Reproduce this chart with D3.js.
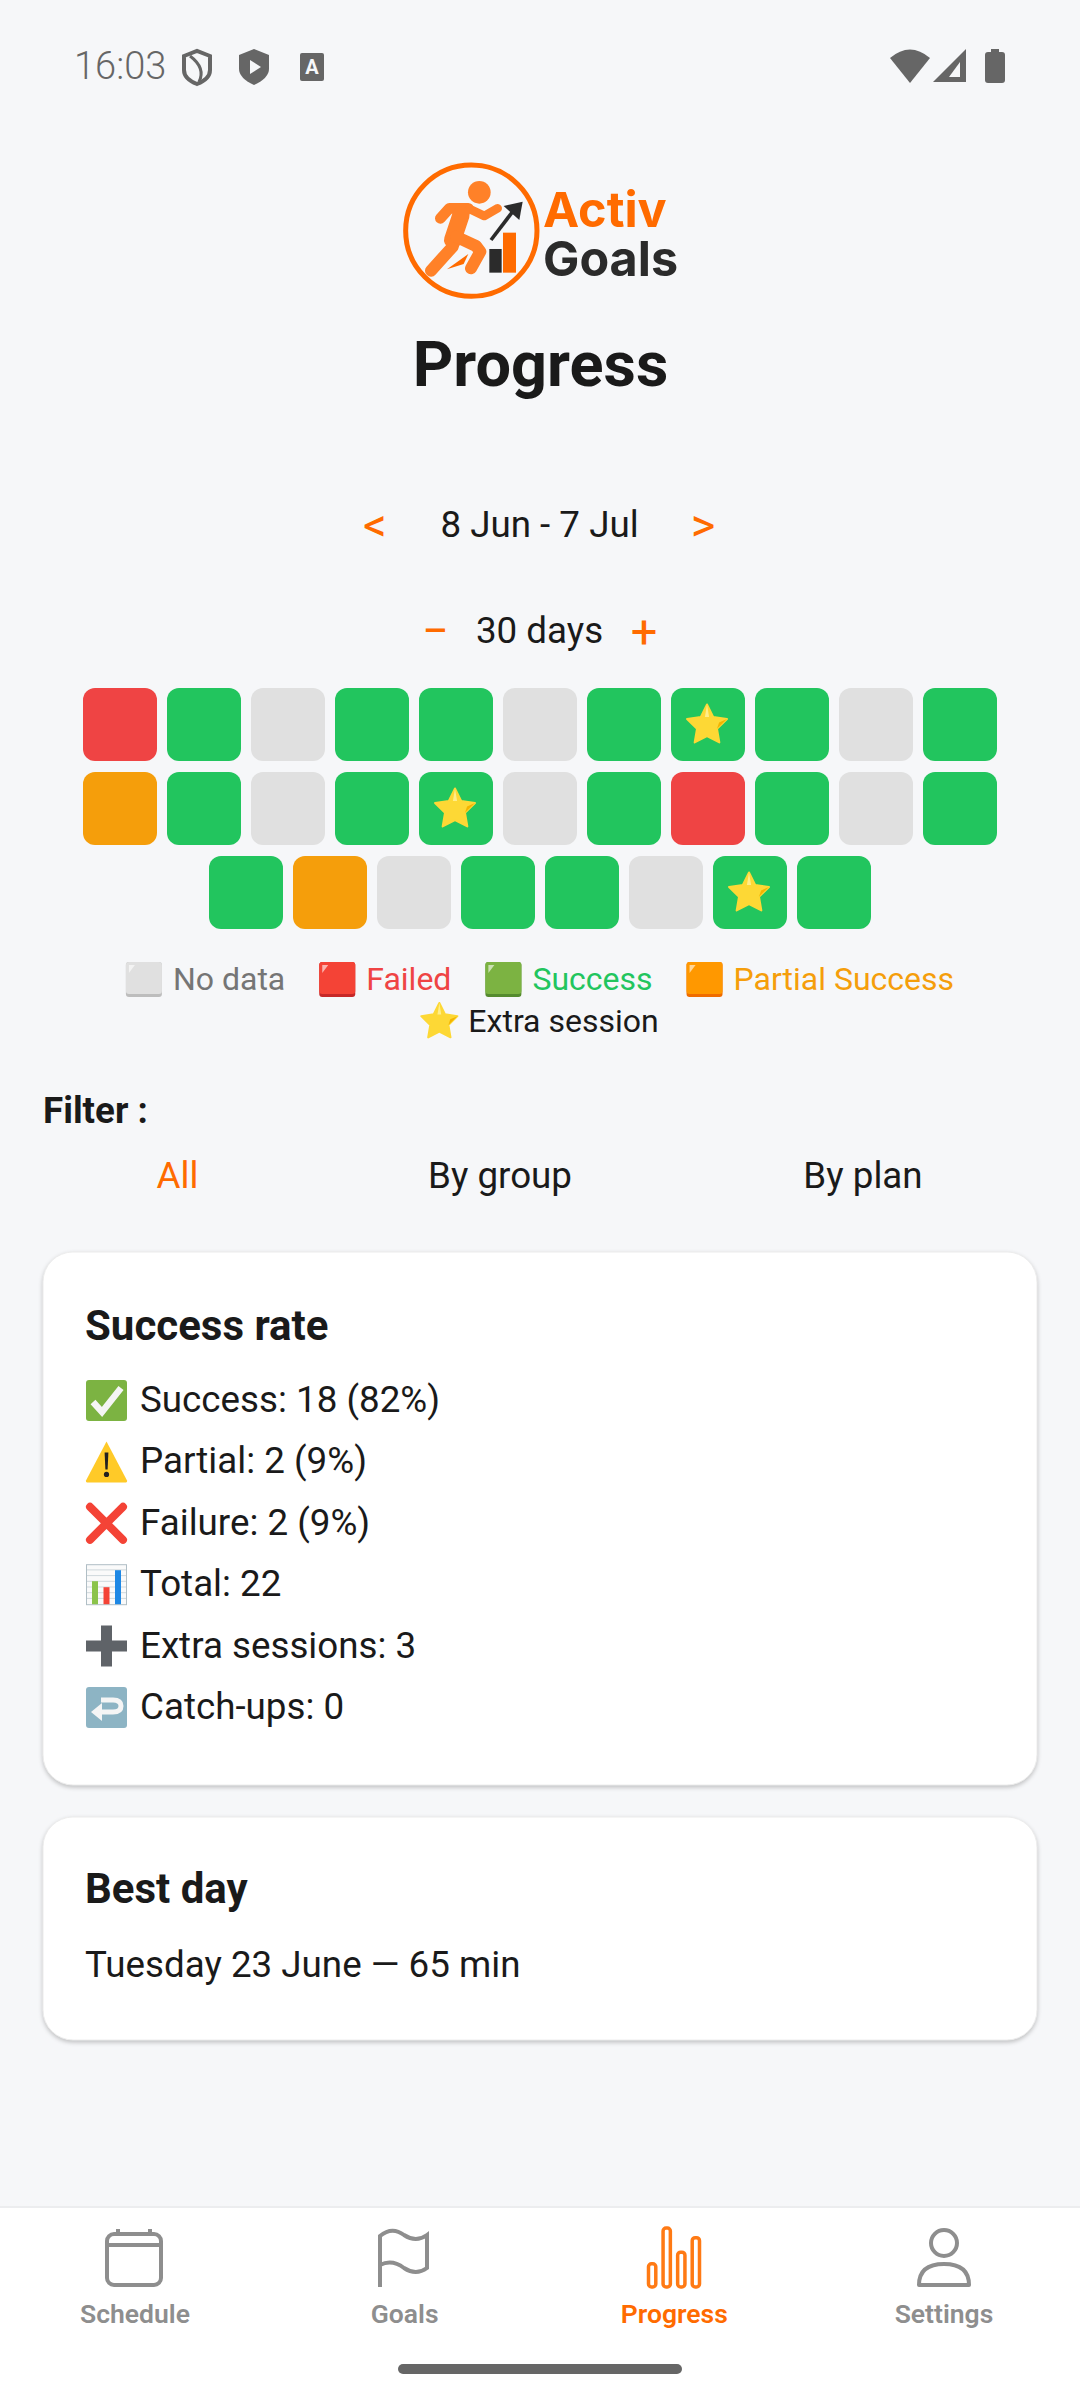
<!DOCTYPE html>
<html>
<head>
<meta charset="utf-8">
<script src="https://cdn.jsdelivr.net/npm/d3@7"></script>
<style>
  html, body { margin: 0; padding: 0; background: #f6f7f9; }
  svg { display: block; }
  text { font-family: Roboto, sans-serif; fill: #1a1a1a; }
</style>
</head>
<body>
<div id="chart"></div>
<script>
// n = no data, f = failed, s = success, p = partial
var dayStates = [
  "f", "s", "n", "s", "s", "n", "s", "s", "s", "n", "s",
  "p", "s", "n", "s", "s", "n", "s", "f", "s", "n", "s",
  "s", "p", "n", "s", "s", "n", "s", "s"
];
var extraDays = [7, 15, 28];
var daysPerRow = 11;

var stateKeys = ["n", "f", "s", "p"];
var stateColors = ["#e0e0e0", "#ef4444", "#22c55e", "#f59e0b"];
var legendLabels = ["No data", "Failed", "Success", "Partial Success", "Extra session"];
var legendIcons = ["n", "f", "s", "p", "star"];
var legendTextColors = ["#757575", "#ef4444", "#22c55e", "#f59e0b", "#1a1a1a"];

var filterLabels = ["All", "By group", "By plan"];
var statIcons = ["check", "warn", "cross", "chart", "plus", "back"];
var statLabels = ["Success: 18 (82%)", "Partial: 2 (9%)", "Failure: 2 (9%)", "Total: 22", "Extra sessions: 3", "Catch-ups: 0"];
var navLabels = ["Schedule", "Goals", "Progress", "Settings"];
var navBars = [24, 61, 36, 51];

var orange = "#ff6b00";
var bodySize = 36.75;
var width = 1080, height = 2400;

var svg = d3.select("#chart").append("svg")
  .attr("width", width)
  .attr("height", height)
  .attr("viewBox", `0 0 ${width} ${height}`);

svg.append("rect").attr("width", width).attr("height", height).attr("fill", "#f6f7f9");

function label(g, str, x, y, size, color, anchor, weight) {
  return g.append("text")
    .attr("x", x).attr("y", y)
    .attr("font-size", size)
    .attr("text-anchor", anchor || "start")
    .attr("font-weight", weight || 400)
    .style("fill", color || "#1a1a1a")
    .text(str);
}

// ---- status bar
function drawStatusBar() {
  var g = svg.append("g");
  var grey = "#666666";
  label(g, "16:03", 74, 79, 38, grey, "start", 300);
  g.append("path").attr("d", "M0,5 L13,0 L26,5 L26,19 Q26,28 13,33 Q0,28 0,19 Z").attr("transform", "translate(184,51)")
    .attr("fill", "none").attr("stroke", grey).attr("stroke-width", 4);
  g.append("path").attr("d", "M190,56 Q206,68 199,82").attr("fill", "none").attr("stroke", grey).attr("stroke-width", 3);
  g.append("path").attr("d", "M0,6 L15,0 L30,6 L30,20 Q30,29 15,36 Q0,29 0,20 Z").attr("transform", "translate(239,49)").attr("fill", grey);
  g.append("path").attr("d", "M250,60 L261,67 L250,74 Z").attr("fill", "#f6f7f9");
  g.append("rect").attr("x", 300).attr("y", 53).attr("width", 24).attr("height", 28).attr("rx", 2).attr("fill", grey);
  label(g, "A", 312, 74, 20, "#f6f7f9", "middle", 700);
  g.append("path").attr("d", "M890,58 Q910,41 930,58 L910,83 Z").attr("fill", grey);
  g.append("path").attr("d", "M966,49 L966,82 L933,82 Z").attr("fill", grey);
  g.append("path").attr("d", "M960,62 L960,77 L949,77 Z").attr("fill", "#f6f7f9");
  g.append("rect").attr("x", 985).attr("y", 52).attr("width", 20).attr("height", 31).attr("rx", 3).attr("fill", grey);
  g.append("rect").attr("x", 991).attr("y", 49).attr("width", 8).attr("height", 5).attr("fill", grey);
}

// ---- logo, traced in crop pixels
function drawLogo() {
  var g = svg.append("g").attr("transform", "translate(381,140) scale(0.3333)");
  var body = "#ff8128", dark = "#2b2b2b";
  g.append("circle").attr("cx", 271).attr("cy", 272).attr("r", 197)
    .attr("fill", "none").attr("stroke", orange).attr("stroke-width", 15);
  g.append("circle").attr("cx", 295).attr("cy", 157).attr("r", 34).attr("fill", body);
  [
    ["M178,235 L205,205 L262,205", 32],
    ["M262,205 L310,228 L350,205", 26],
    ["M248,215 L215,320 L150,392", 36],
    ["M240,225 L215,300", 52],
    ["M225,290 L285,318 L298,335 L270,385", 36]
  ].forEach(function(s) {
    g.append("path").attr("d", s[0]).attr("fill", "none").attr("stroke", body)
      .attr("stroke-width", s[1]).attr("stroke-linecap", "round").attr("stroke-linejoin", "round");
  });
  g.append("path").attr("d", "M198,388 L262,342 L248,372 Z").attr("fill", orange);
  g.append("path").attr("d", "M330,300 L395,215").attr("stroke", dark).attr("stroke-width", 11);
  g.append("path").attr("d", "M368,198 L425,185 L415,240 Z").attr("fill", dark);
  g.append("rect").attr("x", 325).attr("y", 327).attr("width", 37).attr("height", 71).attr("fill", dark);
  g.append("rect").attr("x", 366).attr("y", 278).attr("width", 39).attr("height", 120).attr("fill", orange);

  var t = svg.append("g");
  label(t, "Activ", 543, 227, 48.5, orange, "start", 700).style("font-family", "Inter");
  label(t, "Goals", 543, 276, 48.5, dark, "start", 700).style("font-family", "Inter");
}

// ---- day grid
function drawGrid() {
  var xBand = d3.scaleBand().domain(d3.range(daysPerRow)).range([83, 997]).paddingInner(10 / 84);
  var rows = d3.range(Math.ceil(dayStates.length / daysPerRow));
  var yBand = d3.scaleBand().domain(rows).range([688, 929]).paddingInner(11 / 84);
  var color = d3.scaleOrdinal().domain(stateKeys).range(stateColors);

  var cells = dayStates.map(function(state, i) {
    var row = Math.floor(i / daysPerRow);
    var inRow = Math.min(daysPerRow, dayStates.length - row * daysPerRow);
    return {
      state: state,
      extra: extraDays.indexOf(i) >= 0,
      x: xBand(i % daysPerRow) + (daysPerRow - inRow) / 2 * xBand.step(),
      y: yBand(row)
    };
  });

  svg.append("g").selectAll("rect").data(cells).enter().append("rect")
    .attr("x", d => d.x)
    .attr("y", d => d.y)
    .attr("width", xBand.bandwidth())
    .attr("height", yBand.bandwidth())
    .attr("rx", 12)
    .attr("fill", d => color(d.state));

  cells.filter(d => d.extra).forEach(function(d) {
    drawStar(svg.append("g"), d.x + xBand.bandwidth() / 2 - 1, d.y + yBand.bandwidth() / 2 + 1, 21);
  });
}

function drawStar(g, cx, cy, r) {
  var pts = d3.range(10).map(function(i) {
    var a = -Math.PI / 2 + i * Math.PI / 5;
    var rad = i % 2 ? r * 0.5 : r;
    return [cx + rad * Math.cos(a), cy + rad * Math.sin(a)];
  });
  g.append("path").attr("d", d3.line().curve(d3.curveLinearClosed)(pts))
    .attr("fill", "#fdd835").attr("stroke", "#fdd835").attr("stroke-width", 2).attr("stroke-linejoin", "round");
  g.append("path").attr("d", `M${pts[2][0]},${pts[2][1]} L${pts[3][0]},${pts[3][1]} L${pts[3][0] + r * 0.1},${pts[3][1] - r * 0.3} Z`)
    .attr("fill", "#f4b400");
  g.append("path").attr("d", `M${cx},${cy - r} L${cx + r * 0.1},${cy - r * 0.4} L${cx - r * 0.1},${cy - r * 0.4} Z`)
    .attr("fill", "#ffee8a");
}

// ---- legend, wrapped and centred like a flex row
function drawLegend() {
  var g = svg.append("g");
  var faces = { n: "#e0e0e0", f: "#f44336", s: "#7cb342", p: "#ff9800" };
  var edges = { n: "#bdbdbd", f: "#c62828", s: "#558b2f", p: "#ef6c00" };
  var iconW = 36, iconGap = 11, itemGap = 34, size = 32;

  var widths = legendLabels.map(function(str) {
    var t = label(g, str, 0, -50, size);
    var w = t.node().getComputedTextLength();
    t.remove();
    return iconW + iconGap + w;
  });
  var rows = [d3.range(0, 4), [4]];
  var baselines = [990, 1032];
  rows.forEach(function(row, r) {
    var total = d3.sum(row, i => widths[i]) + itemGap * (row.length - 1);
    var x = 540 - total / 2;
    row.forEach(function(i) {
      var key = legendIcons[i], y = baselines[r];
      if (key === "star") {
        drawStar(g, x + iconW / 2, y - 10, 19);
      } else {
        g.append("rect").attr("x", x).attr("y", y - 28).attr("width", iconW).attr("height", 35).attr("rx", 3).attr("fill", edges[key]);
        g.append("rect").attr("x", x).attr("y", y - 28).attr("width", iconW).attr("height", 32).attr("rx", 3).attr("fill", faces[key]);
        g.append("path").attr("d", `M${x + 3},${y - 17} L${x + 3},${y - 25} L${x + 9},${y - 25} Z`).attr("fill", "#fff").attr("opacity", 0.6);
      }
      label(g, legendLabels[i], x + iconW + iconGap, y, size, legendTextColors[i]);
      x += widths[i] + itemGap;
    });
  });
}

// ---- small emoji icons, 40px box
function drawEmoji(g, key, x, y) {
  var e = g.append("g").attr("transform", `translate(${x},${y})`);
  if (key === "check") {
    e.append("rect").attr("width", 41).attr("height", 41).attr("rx", 3).attr("fill", "#7cb342");
    e.append("path").attr("d", "M7,22 L16,32 L35,8").attr("fill", "none").attr("stroke", "#f5f5f5").attr("stroke-width", 6.5);
  } else if (key === "warn") {
    e.append("path").attr("d", "M20.5,0 L41,39 Q41.5,41 39,41 L2,41 Q-0.5,41 0,39 Z").attr("fill", "#ffca28");
    e.append("path").attr("d", "M18.6,11 L22.4,11 L21.6,28 L19.4,28 Z").attr("fill", "#212121");
    e.append("circle").attr("cx", 20.5).attr("cy", 33).attr("r", 2.6).attr("fill", "#212121");
  } else if (key === "cross") {
    e.append("path").attr("d", "M4,4 L37,37 M37,4 L4,37").attr("stroke", "#f44336").attr("stroke-width", 8).attr("stroke-linecap", "round");
  } else if (key === "chart") {
    e.append("rect").attr("x", 0.5).attr("y", 0.5).attr("width", 40).attr("height", 40).attr("fill", "#fafafa").attr("stroke", "#b0bec5");
    d3.range(1, 7).forEach(function(i) {
      e.append("path").attr("d", `M1,${i * 5.7} L40,${i * 5.7}`).attr("stroke", "#cfd8dc").attr("stroke-width", 1);
    });
    e.append("rect").attr("x", 6).attr("y", 17).attr("width", 6).attr("height", 23).attr("fill", "#8bc34a");
    e.append("rect").attr("x", 17.5).attr("y", 23).attr("width", 6).attr("height", 17).attr("fill", "#f44336");
    e.append("rect").attr("x", 29).attr("y", 6).attr("width", 6).attr("height", 34).attr("fill", "#1e88e5");
  } else if (key === "plus") {
    e.append("path").attr("d", "M15,0 L26,0 L26,15 L41,15 L41,26 L26,26 L26,41 L15,41 L15,26 L0,26 L0,15 L15,15 Z").attr("fill", "#5f6368");
  } else if (key === "back") {
    e.append("rect").attr("width", 41).attr("height", 41).attr("rx", 3).attr("fill", "#8db4c4");
    e.append("path").attr("d", "M15,13 L27,13 Q35,13 35,19 Q35,25 27,25 L15,25").attr("fill", "none").attr("stroke", "#f5f5f5").attr("stroke-width", 5);
    e.append("path").attr("d", "M5,25 L16,16 L16,34 Z").attr("fill", "#f5f5f5");
  }
}

// ---- controls and cards
function drawBody() {
  var g = svg.append("g");
  label(g, "Progress", 540.5, 386, 63, "#1a1a1a", "middle", 700);

  label(g, "<", 375, 541, 47, orange, "middle", 400);
  label(g, "8 Jun - 7 Jul", 539.5, 537, bodySize, "#1a1a1a", "middle");
  label(g, ">", 703, 541, 47, orange, "middle", 400);
  label(g, "−", 435.5, 647, 47, orange, "middle", 400);
  label(g, "30 days", 539.5, 643, bodySize, "#1a1a1a", "middle");
  label(g, "+", 644, 647.5, 47, orange, "middle", 400);

  label(g, "Filter :", 43, 1123, bodySize, "#1a1a1a", "start", 700);
  var filterX = d3.scaleOrdinal().domain(filterLabels).range([177.5, 500, 863]);
  filterLabels.forEach(function(f, i) {
    label(g, f, filterX(f), 1187.5, bodySize, i === 0 ? orange : "#1a1a1a", "middle");
  });

  [[1252, 533], [1817, 223]].forEach(function(c) {
    g.append("rect").attr("x", 43).attr("y", c[0]).attr("width", 994).attr("height", c[1]).attr("rx", 30)
      .attr("fill", "#fff").attr("stroke", "#ececec").attr("stroke-width", 1)
      .style("filter", "drop-shadow(0 2px 2px rgba(0,0,0,0.22))");
  });

  label(g, "Success rate", 85, 1340, 42, "#1a1a1a", "start", 700);
  var rowY = d3.scalePoint().domain(statLabels).range([1412, 1719]);
  statLabels.forEach(function(s, i) {
    drawEmoji(g, statIcons[i], 86, rowY(s) - 32);
    label(g, s, 140, rowY(s), bodySize);
  });

  label(g, "Best day", 85, 1903, 42, "#1a1a1a", "start", 700);
  label(g, "Tuesday 23 June — 65 min", 85, 1977, bodySize);
}

// ---- bottom navigation
function drawNav() {
  var g = svg.append("g");
  var grey = "#8e8e8e";
  g.append("rect").attr("x", 0).attr("y", 2208).attr("width", width).attr("height", 192).attr("fill", "#fff");
  g.append("rect").attr("x", 0).attr("y", 2206).attr("width", width).attr("height", 2).attr("fill", "#ecedef");

  var navX = d3.scalePoint().domain(navLabels).range([135, 944]);
  navLabels.forEach(function(n, i) {
    label(g, n, navX(n), 2323, 26.5, i === 2 ? orange : grey, "middle", 600);
  });

  var line = { fill: "none", stroke: grey, "stroke-width": 4 };
  function outlined(sel) { Object.keys(line).forEach(k => sel.attr(k, line[k])); return sel; }

  outlined(g.append("rect").attr("x", 107).attr("y", 2234).attr("width", 54).attr("height", 51).attr("rx", 7));
  outlined(g.append("path").attr("d", "M107,2245 L161,2245 M118,2229 L118,2236 M150,2229 L150,2236"));

  outlined(g.append("path").attr("d", "M380,2287 L380,2236 Q392,2226 404,2235 Q416,2243 427,2235 L427,2268 Q416,2276 404,2268 Q392,2259 380,2265"));

  var barX = d3.scaleBand().domain(d3.range(navBars.length)).range([648.5, 699.5]).paddingInner(0.5);
  var barY = d3.scaleLinear().domain([0, d3.max(navBars)]).range([2287, 2228]);
  g.append("g").selectAll("rect").data(navBars).enter().append("rect")
    .attr("x", (d, i) => barX(i))
    .attr("y", d => barY(d))
    .attr("width", barX.bandwidth())
    .attr("height", d => barY(0) - barY(d))
    .attr("rx", 3)
    .attr("fill", "none").attr("stroke", "#ff7a14").attr("stroke-width", 3.5);

  outlined(g.append("circle").attr("cx", 944).attr("cy", 2243).attr("r", 13));
  outlined(g.append("path").attr("d", "M919,2285 Q919,2264 944,2264 Q969,2264 969,2285 Z").attr("stroke-linejoin", "round"));

  g.append("rect").attr("x", 398).attr("y", 2364).attr("width", 284).attr("height", 10).attr("rx", 5).attr("fill", "#666");
}

drawStatusBar();
drawLogo();
drawBody();
drawGrid();
drawLegend();
drawNav();
</script>
</body>
</html>
